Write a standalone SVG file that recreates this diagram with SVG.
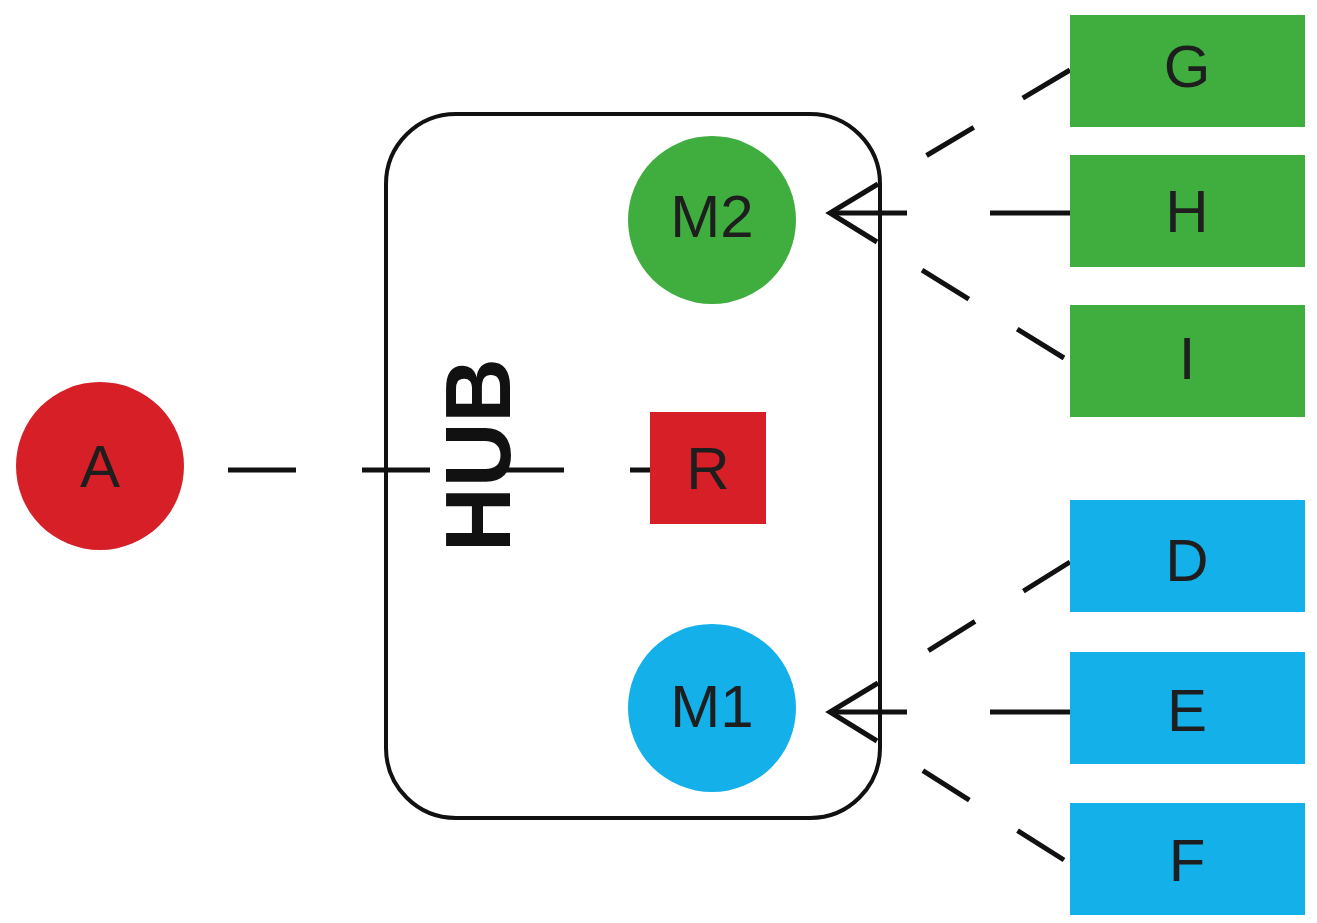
<svg xmlns="http://www.w3.org/2000/svg" width="1317" height="923" viewBox="0 0 1317 923">
<style>
.l{font-family:"Liberation Sans",Arial,sans-serif;font-size:60px;fill:#1e1e1e;text-anchor:middle;dominant-baseline:central}
.c{stroke:#111;stroke-width:5;fill:none}
.g{fill:#3fae3f}.b{fill:#14b0ea}.r{fill:#d71f27}
</style>
<rect width="1317" height="923" fill="#fff"/>
<g id="hub"><rect x="386" y="114" width="494" height="704" rx="70" fill="none" stroke="#111" stroke-width="4"/>
<text transform="translate(478,455) rotate(-90)" x="0" y="0" font-family="Liberation Sans,Arial,sans-serif" font-weight="bold" font-size="92" fill="#111" text-anchor="middle" dominant-baseline="central" textLength="194" lengthAdjust="spacingAndGlyphs">HUB</text></g>
<g id="connectors" class="c">
<line x1="228" y1="470" x2="650" y2="470" stroke-dasharray="68 66"/>
<line x1="1070" y1="70" x2="830" y2="213" stroke-dasharray="55 57 55 400"/>
<line x1="1070" y1="213" x2="830" y2="213" stroke-dasharray="80 83 80"/>
<line x1="1064" y1="358" x2="830" y2="213" stroke-dasharray="55 57 55 400"/>
<polyline points="878,184 830,213 877,242"/>
<line x1="1070" y1="562" x2="830" y2="712" stroke-dasharray="55 57 55 400"/>
<line x1="1070" y1="712" x2="830" y2="712" stroke-dasharray="80 83 80"/>
<line x1="1064" y1="860" x2="830" y2="712" stroke-dasharray="55 57 55 400"/>
<polyline points="878,683 830,712 877,741"/>
</g>
<g id="A"><circle cx="100" cy="466" r="84" class="r"/><text class="l" x="100" y="466">A</text></g>
<g id="R"><rect x="650" y="412" width="116" height="112" class="r"/><text class="l" x="708" y="468">R</text></g>
<g id="M2"><circle cx="712" cy="220" r="84" class="g"/><text class="l" x="712" y="216">M2</text></g>
<g id="M1"><circle cx="712" cy="708" r="84" class="b"/><text class="l" x="712" y="706">M1</text></g>
<g id="G"><rect x="1070" y="15" width="235" height="112" class="g"/><text class="l" x="1187" y="66">G</text></g>
<g id="H"><rect x="1070" y="155" width="235" height="112" class="g"/><text class="l" x="1187" y="211">H</text></g>
<g id="I"><rect x="1070" y="305" width="235" height="112" class="g"/><text class="l" x="1187" y="358">I</text></g>
<g id="D"><rect x="1070" y="500" width="235" height="112" class="b"/><text class="l" x="1187" y="560">D</text></g>
<g id="E"><rect x="1070" y="652" width="235" height="112" class="b"/><text class="l" x="1187" y="710">E</text></g>
<g id="F"><rect x="1070" y="803" width="235" height="112" class="b"/><text class="l" x="1187" y="860">F</text></g>
</svg>
